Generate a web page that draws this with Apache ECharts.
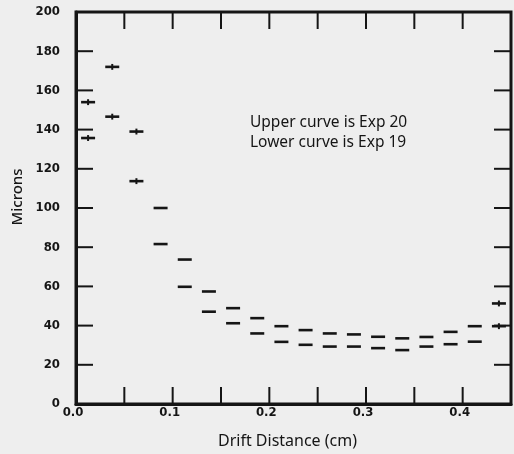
<!DOCTYPE html>
<html lang="en">
<head>
    <meta charset="UTF-8">
    <title>Drift distance resolution</title>
    <script src="https://cdn.jsdelivr.net/npm/echarts@6/dist/echarts.min.js"></script>
    <style>
        html, body {
            margin: 0;
            height: 100%;
            background: #eeeeee;
        }
    </style>
</head>
<body>
<div id="main" style="width: 514px;height: 454px;"></div>
<script>
    // bin centres (cm)
    var drift = [0.0125, 0.0375, 0.0625, 0.0875, 0.1125, 0.1375, 0.1625, 0.1875, 0.2125,
        0.2375, 0.2625, 0.2875, 0.3125, 0.3375, 0.3625, 0.3875, 0.4125, 0.4375];
    // upper curve, Exp 20 (microns)
    var exp20 = [154, 172, 139, 100, 73.7, 57.4, 48.9, 43.8, 39.7,
        37.7, 36.0, 35.5, 34.3, 33.5, 34.2, 36.8, 39.7, 51.3];
    // lower curve, Exp 19 (microns)
    var exp19 = [135.7, 146.6, 113.7, 81.6, 59.8, 47.1, 41.2, 36.0, 31.7,
        30.2, 29.3, 29.3, 28.5, 27.5, 29.3, 30.5, 31.8, 39.7];
    // small vertical error marks
    var err20 = [1.5, 1.5, 1.5, 0, 0, 0, 0, 0, 0, 0, 0, 0, 0, 0, 0, 0, 0, 1.5];
    var err19 = [1.5, 1.5, 1.5, 0, 0, 0, 0, 0, 0, 0, 0, 0, 0, 0, 0, 0, 0, 1.5];
    // frame ticks (drawn on all four sides)
    var xTicks = [0.05, 0.1, 0.15, 0.2, 0.25, 0.3, 0.35, 0.4];
    var yTicks = [20, 40, 60, 80, 100, 120, 140, 160, 180];

    var ink = '#151515';
    var tickFont = 'Liberation Sans Narrow, DejaVu Sans Condensed, sans-serif';
    var tickLen = 17;

    function rows(ys, errs) {
        return drift.map(function (x, i) {
            return [x, ys[i], errs[i]];
        });
    }

    // short horizontal bar per bin, with a tiny vertical mark where there is an error
    function dash(params, api) {
        var x = api.value(0), y = api.value(1), e = api.value(2);
        var c = api.coord([x, y]);
        var kids = [{
            type: 'line',
            shape: {x1: c[0] - 7, y1: c[1], x2: c[0] + 7, y2: c[1]},
            style: {stroke: ink, lineWidth: 2.6}
        }];
        if (e > 0) {
            var t = api.coord([x, y + e]), b = api.coord([x, y - e]);
            kids.push({
                type: 'line',
                shape: {x1: c[0], y1: t[1], x2: c[0], y2: b[1]},
                style: {stroke: ink, lineWidth: 2}
            });
        }
        return {type: 'group', children: kids};
    }

    // inward ticks: x ticks on bottom+top, y ticks on left+right
    function xTick(params, api) {
        var cs = params.coordSys;
        var px = api.coord([api.value(0), 0])[0];
        var b = cs.y + cs.height;
        return {
            type: 'group', children: [
                {type: 'line', shape: {x1: px, y1: b, x2: px, y2: b - tickLen}, style: {stroke: ink, lineWidth: 2}},
                {type: 'line', shape: {x1: px, y1: cs.y, x2: px, y2: cs.y + tickLen}, style: {stroke: ink, lineWidth: 2}}
            ]
        };
    }

    function yTick(params, api) {
        var cs = params.coordSys;
        var py = api.coord([0, api.value(1)])[1];
        var r = cs.x + cs.width;
        return {
            type: 'group', children: [
                {type: 'line', shape: {x1: cs.x, y1: py, x2: cs.x + tickLen, y2: py}, style: {stroke: ink, lineWidth: 2}},
                {type: 'line', shape: {x1: r, y1: py, x2: r - tickLen, y2: py}, style: {stroke: ink, lineWidth: 2}}
            ]
        };
    }

    var myChart = echarts.init(document.getElementById('main'));

    var option = {
        backgroundColor: '#eeeeee',
        animation: false,
        grid: {
            left: 76, right: 1, top: 12, bottom: 46,
            show: true, borderColor: ink, borderWidth: 3, backgroundColor: 'transparent'
        },
        xAxis: {
            type: 'value', min: 0, max: 0.45, interval: 0.05,
            name: 'Drift Distance (cm)', nameLocation: 'middle', nameGap: 29,
            nameTextStyle: {color: ink, fontSize: 16, fontFamily: 'Noto Sans', padding: [0, 12, 0, 0]},
            axisLine: {show: true, lineStyle: {color: ink, width: 3}},
            axisTick: {show: false}, splitLine: {show: false},
            axisLabel: {
                color: ink, fontSize: 13, fontWeight: 'bold', fontFamily: tickFont, margin: 2,
                padding: [0, 6, 0, 0],
                formatter: function (v) {
                    var k = Math.round(v * 100);
                    return (k % 10 === 0 && k < 45) ? v.toFixed(1) : '';
                }
            }
        },
        yAxis: {
            type: 'value', min: 0, max: 200, interval: 20,
            axisLine: {show: true, lineStyle: {color: ink, width: 3}},
            axisTick: {show: false}, splitLine: {show: false},
            axisLabel: {
                color: ink, fontSize: 13, fontWeight: 'bold', fontFamily: tickFont, margin: 16
            }
        },
        graphic: [{
            type: 'text', x: 18, y: 197, rotation: Math.PI / 2,
            style: {
                text: 'Microns', fill: ink, fontSize: 15, fontWeight: 500, fontFamily: 'Noto Sans',
                align: 'center', verticalAlign: 'middle'
            }
        }, {
            type: 'text', left: 250, top: 115,
            style: {text: 'Upper curve is Exp 20', fill: ink, fontSize: 15.5, fontFamily: 'Noto Sans'}
        }, {
            type: 'text', left: 250, top: 135,
            style: {text: 'Lower curve is Exp 19', fill: ink, fontSize: 15.5, fontFamily: 'Noto Sans'}
        }],
        series: [{
            name: 'xticks', type: 'custom', renderItem: xTick, silent: true,
            data: xTicks.map(function (v) { return [v, 0]; })
        }, {
            name: 'yticks', type: 'custom', renderItem: yTick, silent: true,
            data: yTicks.map(function (v) { return [0, v]; })
        }, {
            name: 'Exp 20', type: 'custom', renderItem: dash, data: rows(exp20, err20)
        }, {
            name: 'Exp 19', type: 'custom', renderItem: dash, data: rows(exp19, err19)
        }]
    };
    myChart.setOption(option);
</script>
</body>
</html>
